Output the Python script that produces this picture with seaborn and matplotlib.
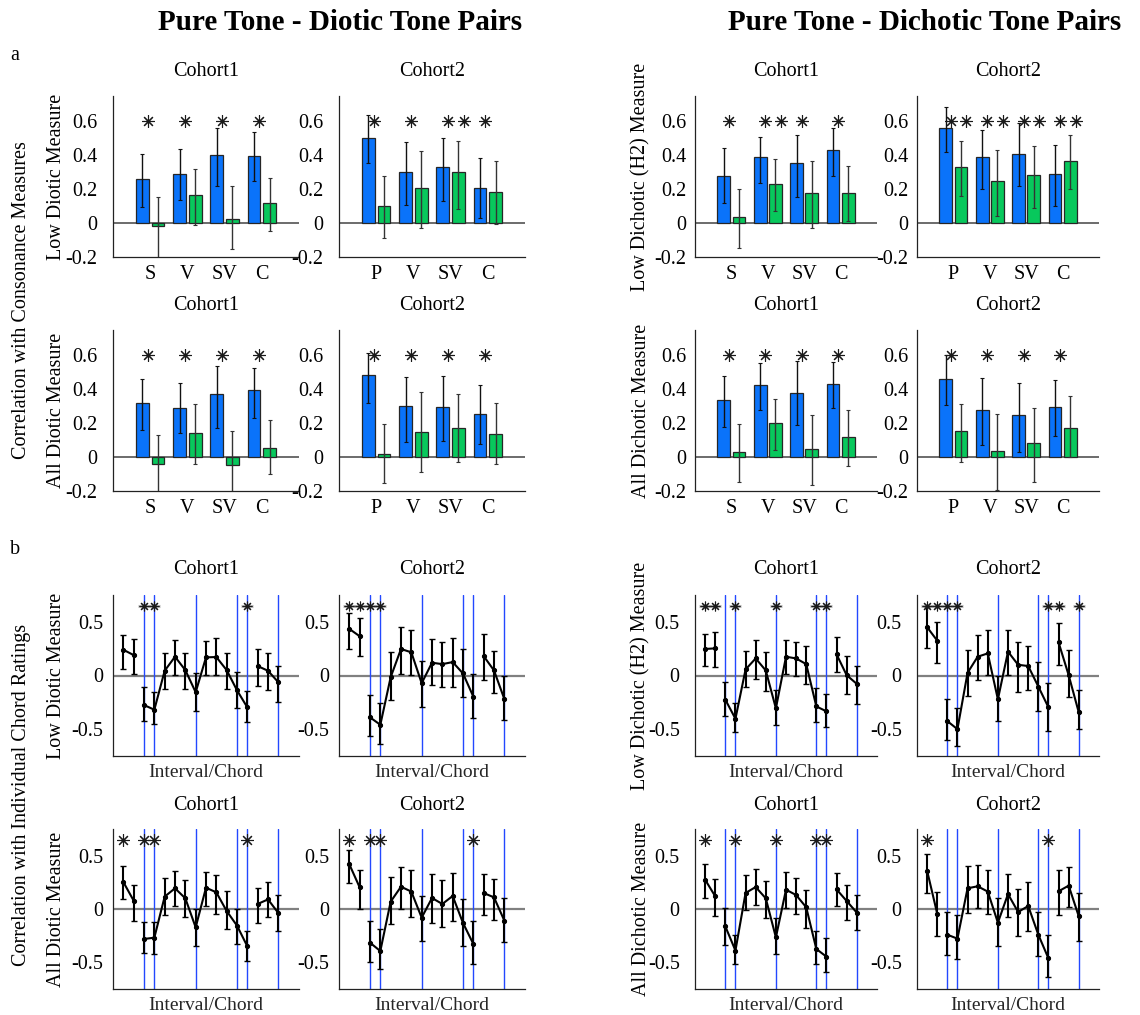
import numpy as np
import pandas as pd
import matplotlib
matplotlib.use('Agg')
import matplotlib.pyplot as plt
import seaborn as sns

sns.set_theme(style='white')
plt.rcParams['font.family'] = ['Liberation Serif', 'DejaVu Serif']
plt.rcParams['text.color'] = 'black'

BLUE = '#0A73FA'
GREEN = '#08C85C'
VLINE = '#2348FF'

# ---------------- bar data (a) ----------------
cats_c1 = ['S', 'V', 'SV', 'C']
cats_c2 = ['P', 'V', 'SV', 'C']

# Diotic, Low measure, Cohort1 / Cohort2
dl1_blue = [0.263, 0.287, 0.400, 0.394]
dl1_blue_lo = [0.097, 0.139, 0.216, 0.246]
dl1_blue_hi = [0.410, 0.436, 0.560, 0.535]
dl1_green = [-0.020, 0.164, 0.026, 0.119]
dl1_green_lo = [-0.22, -0.010, -0.152, -0.046]
dl1_green_hi = [0.154, 0.319, 0.216, 0.269]
dl1_sig_blue = [1, 1, 1, 1]
dl1_sig_green = [0, 0, 0, 0]

dl2_blue = [0.500, 0.299, 0.329, 0.210]
dl2_blue_lo = [0.352, 0.107, 0.131, 0.032]
dl2_blue_hi = [0.638, 0.479, 0.500, 0.384]
dl2_green = [0.103, 0.210, 0.303, 0.186]
dl2_green_lo = [-0.087, -0.026, 0.081, -0.008]
dl2_green_hi = [0.277, 0.428, 0.483, 0.364]
dl2_sig_blue = [1, 1, 1, 1]
dl2_sig_green = [0, 0, 1, 0]

# Diotic, All measure
da1_blue = [0.321, 0.291, 0.374, 0.394]
da1_blue_lo = [0.162, 0.141, 0.174, 0.230]
da1_blue_hi = [0.461, 0.436, 0.537, 0.527]
da1_green = [-0.038, 0.143, -0.044, 0.055]
da1_green_lo = [-0.24, -0.038, -0.24, -0.100]
da1_green_hi = [0.131, 0.313, 0.152, 0.220]
da1_sig_blue = [1, 1, 1, 1]
da1_sig_green = [0, 0, 0, 0]

da2_blue = [0.487, 0.301, 0.295, 0.255]
da2_blue_lo = [0.319, 0.089, 0.095, 0.075]
da2_blue_hi = [0.616, 0.473, 0.481, 0.426]
da2_green = [0.018, 0.149, 0.174, 0.137]
da2_green_lo = [-0.154, -0.089, -0.028, -0.042]
da2_green_hi = [0.194, 0.384, 0.374, 0.321]
da2_sig_blue = [1, 1, 1, 1]
da2_sig_green = [0, 0, 0, 0]

# Dichotic, Low (H2) measure
hl1_blue = [0.277, 0.388, 0.352, 0.430]
hl1_blue_lo = [0.121, 0.234, 0.154, 0.279]
hl1_blue_hi = [0.442, 0.507, 0.519, 0.564]
hl1_green = [0.038, 0.232, 0.180, 0.180]
hl1_green_lo = [-0.147, 0.071, -0.026, 0.014]
hl1_green_hi = [0.200, 0.380, 0.364, 0.339]
hl1_sig_blue = [1, 1, 1, 1]
hl1_sig_green = [0, 1, 0, 0]

hl2_blue = [0.564, 0.388, 0.410, 0.287]
hl2_blue_lo = [0.418, 0.204, 0.216, 0.103]
hl2_blue_hi = [0.683, 0.549, 0.588, 0.461]
hl2_green = [0.329, 0.251, 0.281, 0.364]
hl2_green_lo = [0.158, 0.042, 0.091, 0.200]
hl2_green_hi = [0.483, 0.434, 0.457, 0.517]
hl2_sig_blue = [1, 1, 1, 1]
hl2_sig_green = [1, 1, 1, 1]

# Dichotic, All measure
ha1_blue = [0.339, 0.424, 0.378, 0.430]
ha1_blue_lo = [0.178, 0.275, 0.190, 0.287]
ha1_blue_hi = [0.481, 0.556, 0.568, 0.562]
ha1_green = [0.030, 0.200, 0.050, 0.119]
ha1_green_lo = [-0.149, 0.042, -0.164, -0.051]
ha1_green_hi = [0.194, 0.345, 0.248, 0.277]
ha1_sig_blue = [1, 1, 1, 1]
ha1_sig_green = [0, 0, 0, 0]

ha2_blue = [0.461, 0.277, 0.250, 0.293]
ha2_blue_lo = [0.307, 0.071, 0.030, 0.125]
ha2_blue_hi = [0.600, 0.467, 0.436, 0.457]
ha2_green = [0.152, 0.036, 0.081, 0.174]
ha2_green_lo = [-0.028, -0.196, -0.149, 0.002]
ha2_green_hi = [0.313, 0.253, 0.291, 0.362]
ha2_sig_blue = [1, 1, 1, 1]
ha2_sig_green = [0, 0, 0, 0]

# ---------------- line data (b) ----------------
chord_index = list(range(1, 17))
chord_group = [1, 1, 2, 2, 2, 2, 2, 2, 2, 2, 2, 2, 2, 3, 3, 3]
boundary_chords = [3, 4, 8, 12, 13, 16]
minor_chords = [5, 6, 7, 9, 10, 11]

ldl1 = [0.24, 0.19, -0.275, -0.319, 0.044, 0.175, 0.05, -0.156, 0.169, 0.172, 0.05, -0.138, -0.297, 0.088, 0.044, -0.063]
ldl1_lo = [0.063, 0.01, -0.428, -0.453, -0.122, 0.006, -0.128, -0.328, 0.003, 0.003, -0.125, -0.306, -0.434, -0.097, -0.138, -0.247]
ldl1_hi = [0.381, 0.344, -0.106, -0.156, 0.213, 0.331, 0.213, 0.022, 0.325, 0.347, 0.213, 0.031, -0.147, 0.25, 0.213, 0.09]
ldl1_sig = [3, 4, 13]

ldl2 = [0.434, 0.366, -0.39, -0.459, -0.016, 0.247, 0.216, -0.072, 0.119, 0.106, 0.125, 0.019, -0.197, 0.181, 0.047, -0.219]
ldl2_lo = [0.244, 0.178, -0.566, -0.64, -0.228, 0.016, 0.009, -0.29, -0.084, -0.103, -0.103, -0.197, -0.397, -0.04, -0.163, -0.41]
ldl2_hi = [0.578, 0.538, -0.181, -0.259, 0.219, 0.453, 0.428, 0.134, 0.34, 0.313, 0.353, 0.244, 0.016, 0.388, 0.228, -0.006]
ldl2_sig = [1, 2, 3, 4]

lda1 = [0.253, 0.078, -0.281, -0.269, 0.116, 0.194, 0.1, -0.172, 0.2, 0.156, -0.019, -0.156, -0.35, 0.047, 0.09, -0.038]
lda1_lo = [0.094, -0.113, -0.416, -0.422, -0.053, 0.028, -0.072, -0.344, 0.031, -0.044, -0.188, -0.328, -0.49, -0.128, -0.078, -0.206]
lda1_hi = [0.406, 0.222, -0.122, -0.122, 0.288, 0.359, 0.272, 0.003, 0.344, 0.319, 0.166, 0.003, -0.203, 0.2, 0.253, 0.131]
lda1_sig = [1, 3, 4, 13]

lda2 = [0.419, 0.203, -0.316, -0.394, 0.069, 0.209, 0.163, -0.081, 0.103, 0.047, 0.122, -0.131, -0.328, 0.15, 0.109, -0.109]
lda2_lo = [0.24, -0.003, -0.5, -0.563, -0.14, -0.003, -0.078, -0.297, -0.131, -0.166, -0.109, -0.347, -0.516, -0.053, -0.106, -0.313]
lda2_hi = [0.553, 0.366, -0.113, -0.188, 0.3, 0.397, 0.363, 0.122, 0.325, 0.269, 0.338, 0.097, -0.113, 0.328, 0.284, 0.1]
lda2_sig = [1, 3, 4, 13]

lhl1 = [0.247, 0.253, -0.225, -0.403, 0.056, 0.159, 0.047, -0.306, 0.175, 0.159, 0.106, -0.288, -0.334, 0.197, 0.003, -0.078]
lhl1_lo = [0.09, 0.078, -0.381, -0.522, -0.103, -0.031, -0.14, -0.463, 0.016, -0.006, -0.078, -0.431, -0.478, 0.031, -0.175, -0.266]
lhl1_hi = [0.39, 0.403, -0.059, -0.253, 0.225, 0.331, 0.219, -0.134, 0.331, 0.313, 0.275, -0.119, -0.175, 0.356, 0.178, 0.09]
lhl1_sig = [1, 2, 4, 8, 12, 13]

lhl2 = [0.45, 0.325, -0.425, -0.5, 0.025, 0.175, 0.206, -0.222, 0.222, 0.1, 0.088, -0.103, -0.297, 0.309, 0.003, -0.344]
lhl2_lo = [0.256, 0.116, -0.597, -0.653, -0.19, -0.038, 0.009, -0.42, 0.009, -0.15, -0.131, -0.331, -0.519, 0.1, -0.2, -0.5]
lhl2_hi = [0.64, 0.503, -0.222, -0.306, 0.234, 0.378, 0.428, 0.0, 0.428, 0.313, 0.275, 0.122, -0.072, 0.488, 0.24, -0.134]
lhl2_sig = [1, 2, 3, 4, 13, 14, 16]

lha1 = [0.275, 0.119, -0.163, -0.39, 0.15, 0.206, 0.1, -0.266, 0.181, 0.131, 0.016, -0.375, -0.447, 0.184, 0.075, -0.034]
lha1_lo = [0.103, -0.063, -0.334, -0.519, -0.006, 0.034, -0.088, -0.419, 0.006, -0.044, -0.175, -0.513, -0.594, 0.028, -0.1, -0.197]
lha1_hi = [0.422, 0.284, 0.009, -0.244, 0.319, 0.375, 0.266, -0.084, 0.35, 0.291, 0.181, -0.203, -0.272, 0.34, 0.222, 0.131]
lha1_sig = [1, 4, 8, 12, 13]

lha2 = [0.359, -0.044, -0.241, -0.278, 0.194, 0.213, 0.163, -0.128, 0.14, -0.028, 0.028, -0.241, -0.463, 0.166, 0.219, -0.069]
lha2_lo = [0.153, -0.25, -0.431, -0.469, -0.038, 0.006, -0.047, -0.35, -0.072, -0.253, -0.203, -0.438, -0.64, -0.053, 0.019, -0.297]
lha2_hi = [0.516, 0.163, -0.031, -0.056, 0.406, 0.416, 0.363, 0.106, 0.325, 0.19, 0.253, -0.028, -0.244, 0.366, 0.394, 0.15]
lha2_sig = [1, 13]

# ---------------- figure ----------------
W, H = 1140, 1015
fig = plt.figure(figsize=(W / 100, H / 100), dpi=100)
FS = 14.5


def ax_at(l, t, w, h):
    return fig.add_axes([l / W, 1 - (t + h) / H, w / W, h / H])


def style_axes(ax, ypad):
    for s in ['top', 'right']:
        ax.spines[s].set_visible(False)
    for s in ['left', 'bottom']:
        ax.spines[s].set_color('#222222')
        ax.spines[s].set_linewidth(0.9)
    ax.tick_params(axis='both', direction='in', length=4, width=0.8,
                   colors='#222222', labelsize=FS, labelcolor='black')
    ax.tick_params(axis='y', pad=ypad)
    ax.set_xlabel('')
    ax.set_ylabel('')


def star(ax, xs, y, ms):
    ax.plot(xs, [y] * len(xs), ls='none', marker=(8, 2, 0), ms=ms, mew=0.8,
            color='#1a1a1a', zorder=5)


def bar_panel(ax, cats, blue, blo, bhi, green, glo, ghi, sb, sg, ypad):
    df = pd.DataFrame({'cat': cats + cats, 'val': blue + green,
                       'measure': ['blue'] * 4 + ['green'] * 4})
    sns.barplot(data=df, x='cat', y='val', hue='measure', order=cats,
                hue_order=['blue', 'green'], palette=[BLUE, GREEN], saturation=1,
                width=0.84, gap=0.17, edgecolor='#262626', linewidth=0.9,
                errorbar=None, legend=False, ax=ax, zorder=2)
    bars = sorted(ax.patches, key=lambda p: p.get_x())
    centers = [p.get_x() + p.get_width() / 2 for p in bars]
    bc = centers[0::2]
    gc = centers[1::2]
    ax.axhline(0, color='#444444', lw=1.1, zorder=1)
    ax.errorbar(bc, blue, yerr=[np.array(blue) - np.array(blo), np.array(bhi) - np.array(blue)],
                fmt='none', ecolor='#111111', elinewidth=1.0, capsize=1.5, capthick=0.8, zorder=3)
    ax.errorbar(gc, green, yerr=[np.array(green) - np.array(glo), np.array(ghi) - np.array(green)],
                fmt='none', ecolor='#333333', elinewidth=1.0, capsize=1.5, capthick=0.8, zorder=3)
    sx = [c + 0.145 for c, s in zip(bc, sb) if s] + [c + 0.145 for c, s in zip(gc, sg) if s]
    star(ax, sx, 0.6, 9)
    ax.set_xlim(-1, 4)
    ax.set_ylim(-0.2, 0.75)
    ax.set_yticks([-0.2, 0, 0.2, 0.4, 0.6])
    ax.set_yticklabels(['-0.2', '0', '0.2', '0.4', '0.6'])
    style_axes(ax, ypad)
    ax.tick_params(axis='x', length=3, pad=6)


def line_panel(ax, vals, lo, hi, sig, ypad, low_row):
    df = pd.DataFrame({'chord': chord_index, 'r': vals, 'grp': chord_group})
    ax.axhline(0, color='#808080', lw=1.6, zorder=1)
    for b in boundary_chords:
        ax.axvline(b, color=VLINE, lw=1.0, zorder=1.5)
    sns.lineplot(data=df, x='chord', y='r', units='grp', estimator=None,
                 color='black', lw=1.5, marker='o', ms=3, mec='black',
                 legend=False, ax=ax, zorder=3)
    v = np.array(vals)
    ax.errorbar(chord_index, vals, yerr=[v - np.array(lo), np.array(hi) - v],
                fmt='none', ecolor='black', elinewidth=1.5, capsize=2, capthick=1.0, zorder=3)
    if low_row:
        ax.plot(sig, [0.65] * len(sig), ls='none', marker='_', ms=9, mew=2.2,
                color='#a0a0a0', alpha=0.7, zorder=4)
        star(ax, sig, 0.65, 7)
    else:
        star(ax, sig, 0.65, 9)
    ax.set_xlim(0, 18)
    ax.set_ylim(-0.75, 0.75)
    ax.set_yticks([-0.5, 0, 0.5])
    ax.set_yticklabels(['-0.5', '0', '0.5'])
    ax.set_xticks(minor_chords)
    ax.set_xticklabels([])
    style_axes(ax, ypad)
    ax.set_xlabel('Interval/Chord', fontsize=14, labelpad=2)


# axes geometry (pixels)
LX = [113, 339]
LW = 186
RX = [695, 917]
RW = 182
ROWS = [(96, 161), (330, 161), (595, 161), (829, 160)]

# Row 1
ax11 = ax_at(LX[0], ROWS[0][0], LW, ROWS[0][1])
bar_panel(ax11, cats_c1, dl1_blue, dl1_blue_lo, dl1_blue_hi, dl1_green, dl1_green_lo, dl1_green_hi, dl1_sig_blue, dl1_sig_green, 11)
ax12 = ax_at(LX[1], ROWS[0][0], LW, ROWS[0][1])
bar_panel(ax12, cats_c2, dl2_blue, dl2_blue_lo, dl2_blue_hi, dl2_green, dl2_green_lo, dl2_green_hi, dl2_sig_blue, dl2_sig_green, 11)
ax13 = ax_at(RX[0], ROWS[0][0], RW, ROWS[0][1])
bar_panel(ax13, cats_c1, hl1_blue, hl1_blue_lo, hl1_blue_hi, hl1_green, hl1_green_lo, hl1_green_hi, hl1_sig_blue, hl1_sig_green, 6)
ax14 = ax_at(RX[1], ROWS[0][0], RW, ROWS[0][1])
bar_panel(ax14, cats_c2, hl2_blue, hl2_blue_lo, hl2_blue_hi, hl2_green, hl2_green_lo, hl2_green_hi, hl2_sig_blue, hl2_sig_green, 6)

# Row 2
ax21 = ax_at(LX[0], ROWS[1][0], LW, ROWS[1][1])
bar_panel(ax21, cats_c1, da1_blue, da1_blue_lo, da1_blue_hi, da1_green, da1_green_lo, da1_green_hi, da1_sig_blue, da1_sig_green, 11)
ax22 = ax_at(LX[1], ROWS[1][0], LW, ROWS[1][1])
bar_panel(ax22, cats_c2, da2_blue, da2_blue_lo, da2_blue_hi, da2_green, da2_green_lo, da2_green_hi, da2_sig_blue, da2_sig_green, 11)
ax23 = ax_at(RX[0], ROWS[1][0], RW, ROWS[1][1])
bar_panel(ax23, cats_c1, ha1_blue, ha1_blue_lo, ha1_blue_hi, ha1_green, ha1_green_lo, ha1_green_hi, ha1_sig_blue, ha1_sig_green, 6)
ax24 = ax_at(RX[1], ROWS[1][0], RW, ROWS[1][1])
bar_panel(ax24, cats_c2, ha2_blue, ha2_blue_lo, ha2_blue_hi, ha2_green, ha2_green_lo, ha2_green_hi, ha2_sig_blue, ha2_sig_green, 6)

# Row 3
ax31 = ax_at(LX[0], ROWS[2][0], LW, ROWS[2][1])
line_panel(ax31, ldl1, ldl1_lo, ldl1_hi, ldl1_sig, 7, True)
ax32 = ax_at(LX[1], ROWS[2][0], LW, ROWS[2][1])
line_panel(ax32, ldl2, ldl2_lo, ldl2_hi, ldl2_sig, 7, True)
ax33 = ax_at(RX[0], ROWS[2][0], RW, ROWS[2][1])
line_panel(ax33, lhl1, lhl1_lo, lhl1_hi, lhl1_sig, 11, True)
ax34 = ax_at(RX[1], ROWS[2][0], RW, ROWS[2][1])
line_panel(ax34, lhl2, lhl2_lo, lhl2_hi, lhl2_sig, 11, True)

# Row 4
ax41 = ax_at(LX[0], ROWS[3][0], LW, ROWS[3][1])
line_panel(ax41, lda1, lda1_lo, lda1_hi, lda1_sig, 7, False)
ax42 = ax_at(LX[1], ROWS[3][0], LW, ROWS[3][1])
line_panel(ax42, lda2, lda2_lo, lda2_hi, lda2_sig, 7, False)
ax43 = ax_at(RX[0], ROWS[3][0], RW, ROWS[3][1])
line_panel(ax43, lha1, lha1_lo, lha1_hi, lha1_sig, 11, False)
ax44 = ax_at(RX[1], ROWS[3][0], RW, ROWS[3][1])
line_panel(ax44, lha2, lha2_lo, lha2_hi, lha2_sig, 11, False)

# ---------------- texts ----------------
def ftext(x, y, s, **kw):
    fig.text(x / W, 1 - y / H, s, **kw)

ftext(340, 22, 'Pure Tone - Diotic Tone Pairs', ha='center', va='center', fontsize=21, fontweight='bold')
ftext(925, 22, 'Pure Tone - Dichotic Tone Pairs', ha='center', va='center', fontsize=21, fontweight='bold')
ftext(10, 55, 'a', ha='left', va='center', fontsize=FS)
ftext(10, 550, 'b', ha='left', va='center', fontsize=FS)

title_y = [72, 306, 570, 805]
for ty in title_y:
    for x0, w in [(LX[0], LW), (LX[1], LW), (RX[0], RW), (RX[1], RW)]:
        lab = 'Cohort1' if x0 in (LX[0], RX[0]) else 'Cohort2'
        ftext(x0 + w / 2, ty, lab, ha='center', va='center', fontsize=FS)

row_labels_left = ['Low Diotic Measure', 'All Diotic Measure', 'Low Diotic Measure', 'All Diotic Measure']
row_labels_right = ['Low Dichotic (H2) Measure', 'All Dichotic Measure',
                    'Low Dichotic (H2) Measure', 'All Dichotic Measure']
for (top, h), ll, rl in zip(ROWS, row_labels_left, row_labels_right):
    ftext(57, top + h / 2, ll, ha='center', va='center', rotation=90, fontsize=FS)
    ftext(641, top + h / 2, rl, ha='center', va='center', rotation=90, fontsize=FS)

ftext(22, 300, 'Correlation with Consonance Measures', ha='center', va='center', rotation=90, fontsize=FS)
ftext(22, 795, 'Correlation with Individual Chord Ratings', ha='center', va='center', rotation=90, fontsize=FS)

fig.savefig('out.png', dpi=100, facecolor='white')
